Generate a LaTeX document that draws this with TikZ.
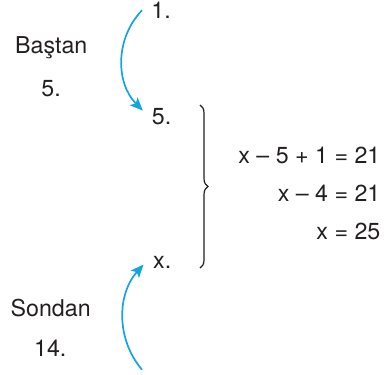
\documentclass[tikz,border=0pt]{standalone}
\usepackage{fontspec}
\setmainfont{TeX Gyre Heros}
\usetikzlibrary{arrows.meta,decorations.pathreplacing}
\definecolor{arrowblue}{RGB}{20,165,225}
\definecolor{ink}{RGB}{35,31,32}
\begin{document}
\begin{tikzpicture}[x=1bp,y=1bp,
  lbl/.style={inner sep=0pt, anchor=base west, text=ink, font=\fontsize{23.2bp}{27bp}\selectfont},
  eq/.style={lbl, anchor=base east},
  bluearrow/.style={draw=arrowblue, line width=1.7bp, -{Stealth[length=13bp,width=11bp,inset=3bp]}},
  bracestyle/.style={draw=ink, line width=1.2bp, decorate, decoration={brace, amplitude=8bp}}
]
\useasboundingbox (0,0) rectangle (387,375);
% labels
\node[lbl] (one) at (151.3,356.7) {1.};
\node[lbl] (bastan) at (15,321.3) {Baştan};
\node[lbl] (fiveL) at (41.2,279) {5.};
\node[lbl] (fiveR) at (151.8,251) {5.};
\node[lbl] (xR) at (153,106.7) {x.};
\node[lbl] (sondan) at (10.5,59) {Sondan};
\node[lbl] (fourteen) at (34,19) {14.};
% equations
\node[eq] (eq1) at (380.5,212) {x – 5 + 1 = 21};
\node[eq] (eq2) at (380.5,174) {x – 4 = 21};
\node[eq] (eq3) at (380.5,136) {x = 25};
% brace
\coordinate (bt) at (200,270);
\coordinate (bb) at (200,107);
\draw[bracestyle] (bt) -- (bb);
% arrows
\coordinate (a1s) at (142,364.7);
\coordinate (a1e) at (142.8,264.4);
\coordinate (a2s) at (142,5.3);
\coordinate (a2e) at (143.5,110.4);
\draw[bluearrow] (a1s) .. controls (115,336.6) and (115.5,292.1) .. (a1e);
\draw[bluearrow] (a2s) .. controls (116.1,35.8) and (116.8,80.6) .. (a2e);
\end{tikzpicture}
\end{document}
